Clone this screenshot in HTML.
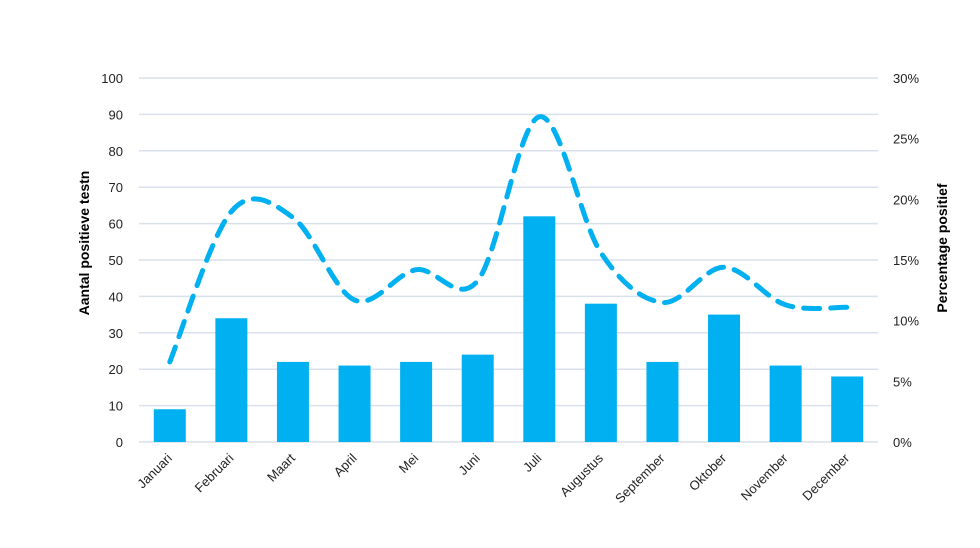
<!DOCTYPE html>
<html><head><meta charset="utf-8"><style>
body{margin:0;background:#fff;}
svg{display:block;font-family:"Liberation Sans",sans-serif;}
</style></head><body>
<svg width="980" height="548" viewBox="0 0 980 548">
<g id="grid"></g>
<g id="bars"></g>
<g id="line"></g>
<g id="yl"></g>
<g id="yr"></g>
<g id="xl"></g>
<text transform="translate(89,243) rotate(-90)" text-anchor="middle" font-size="14" font-weight="bold" fill="#000">Aantal positieve testn</text>
<text transform="translate(947,248) rotate(-90)" text-anchor="middle" font-size="14" font-weight="bold" fill="#000">Percentage positief</text>
</svg>
<script>
const categories=["Januari","Februari","Maart","April","Mei","Juni","Juli","Augustus","September","Oktober","November","December"];
const counts=[9,34,22,21,22,24,62,38,22,35,21,18];
const percents=[6.6,19.0,18.5,11.7,14.2,13.3,26.8,15.6,11.5,14.4,11.3,11.1];
const leftTicks=[0,10,20,30,40,50,60,70,80,90,100];
const rightTicks=["0%","5%","10%","15%","20%","25%","30%"];
const NS="http://www.w3.org/2000/svg";
const x0=139,x1=878,yB=442,yT=78;
const step=(x1-x0)/categories.length;
const xc=i=>x0+step*(i+0.5);
const yL=v=>yB-(v/100)*(yB-yT);
const yR=v=>yB-(v/30)*(yB-yT);
function mk(t,a,p){const e=document.createElementNS(NS,t);for(const k in a)e.setAttribute(k,a[k]);p.appendChild(e);return e;}
const grid=document.getElementById('grid'),bars=document.getElementById('bars'),line=document.getElementById('line');
const yl=document.getElementById('yl'),yr=document.getElementById('yr'),xl=document.getElementById('xl');
leftTicks.forEach(v=>{
  const g=mk('line',{x1:x0,x2:x1,y1:yL(v),y2:yL(v),stroke:'#d9e1ec','stroke-width':1.5},grid);
  
  
  const t=mk('text',{x:123,y:yL(v)+5,'text-anchor':'end','font-size':13,fill:'#222'},yl);
  t.textContent=v;
  
  
});
rightTicks.forEach((s,i)=>{
  const t=mk('text',{x:893,y:yR(i*5)+5,'font-size':13,fill:'#222'},yr);
  t.textContent=s;
  
  
});
counts.forEach((v,i)=>{
  const r=mk('rect',{x:xc(i)-16,y:yL(v),width:32,height:yB-yL(v),fill:'#00b0f0'},bars);
  
  
});
categories.forEach((c,i)=>{
  const t=mk('text',{transform:`translate(${xc(i)+3},${yB+17}) rotate(-45)`,'text-anchor':'end','font-size':13,fill:'#222'},xl);
  t.textContent=c;
  
  
});
const pts=percents.map((p,i)=>[xc(i),yR(p)]);
let d=`M${pts[0][0]},${pts[0][1]}`;
for(let i=0;i<pts.length-1;i++){
  const p0=pts[Math.max(0,i-1)],p1=pts[i],p2=pts[i+1],p3=pts[Math.min(pts.length-1,i+2)];
  const k=1/6;
  d+=` C${p1[0]+(p2[0]-p0[0])*k},${p1[1]+(p2[1]-p0[1])*k} ${p2[0]-(p3[0]-p1[0])*k},${p2[1]-(p3[1]-p1[1])*k} ${p2[0]},${p2[1]}`;
}
const pl=mk('path',{d:d,fill:'none',stroke:'#00b0f0','stroke-width':5,'stroke-dasharray':'16 11','stroke-linecap':'round'},line);


</script>
</body></html>
